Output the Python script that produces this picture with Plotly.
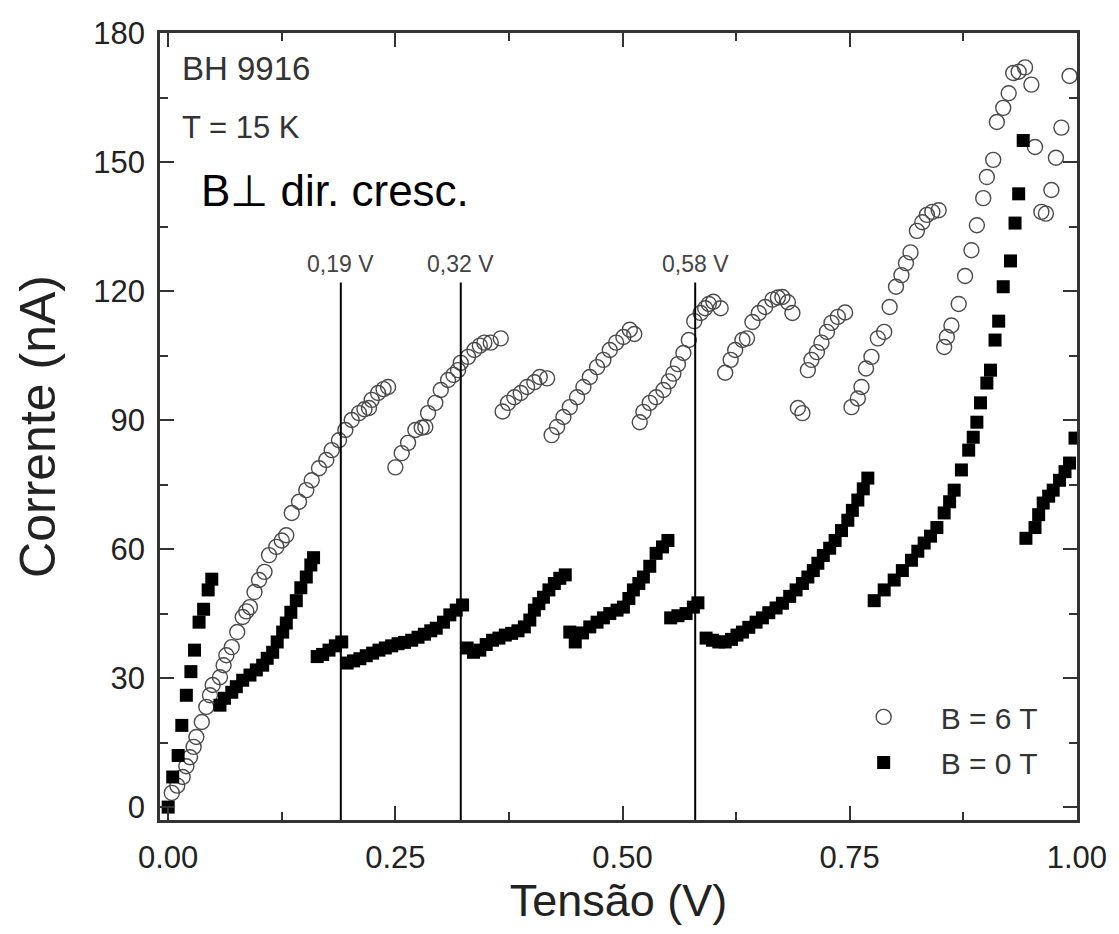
import plotly.graph_objects as go

# ---- B = 0 T (filled squares) ----
v0 = [0.000, 0.005, 0.011, 0.015, 0.020, 0.025, 0.029, 0.034, 0.039, 0.044, 0.048,
      0.057, 0.062, 0.070, 0.075, 0.082, 0.090, 0.097, 0.104, 0.109, 0.115, 0.120, 0.126, 0.130, 0.135, 0.141, 0.146, 0.152, 0.157, 0.160,
      0.164, 0.170, 0.177, 0.184, 0.191,
      0.197, 0.204, 0.211, 0.218, 0.225, 0.232, 0.239, 0.246, 0.253, 0.260, 0.268, 0.275, 0.282, 0.289, 0.295, 0.303, 0.310, 0.317, 0.324,
      0.329, 0.336, 0.343, 0.350, 0.357, 0.364, 0.371, 0.378, 0.385, 0.392, 0.398, 0.403, 0.408, 0.413, 0.419, 0.425, 0.431, 0.437,
      0.442, 0.448, 0.456, 0.464, 0.472, 0.479, 0.486, 0.494, 0.501, 0.507, 0.512, 0.518, 0.523, 0.530, 0.537, 0.544, 0.550,
      0.553, 0.561, 0.570, 0.578, 0.583,
      0.592, 0.599, 0.606, 0.613, 0.620, 0.626, 0.632, 0.639, 0.647, 0.654, 0.661, 0.669, 0.676, 0.684, 0.691, 0.698, 0.704, 0.710, 0.715, 0.721, 0.728, 0.734, 0.741, 0.748, 0.753, 0.759, 0.765, 0.770,
      0.777, 0.788, 0.799, 0.808, 0.818, 0.825, 0.832, 0.839, 0.846, 0.854, 0.860, 0.865, 0.873, 0.881, 0.886, 0.890, 0.894, 0.901, 0.905, 0.910, 0.914, 0.919, 0.927, 0.932, 0.936, 0.941,
      0.944, 0.954, 0.958, 0.963, 0.969, 0.974, 0.981, 0.987, 0.992, 0.998]
i0 = [0, 7, 12, 19, 26, 31.5, 36.5, 43, 46, 50.5, 53,
      23.7, 25.3, 26.7, 28, 29.5, 30.7, 31.9, 33, 34.6, 36, 38.4, 40.7, 42.8, 45.3, 48, 51, 53.5, 56.3, 58,
      35, 35.5, 36.5, 37.5, 38.4,
      33.5, 34, 34.5, 35.2, 35.8, 36.5, 37, 37.5, 38, 38.3, 38.8, 39.5, 40.2, 41, 41.6, 43, 44.7, 45.8, 47,
      37, 36, 36.5, 37.8, 38.8, 39.3, 40, 40.4, 41, 41.9, 43.5, 45.8, 47.3, 48.8, 50.5, 52, 53.2, 54,
      40.7, 38.4, 40.5, 41.9, 43, 44, 45, 45.8, 46.5, 48.5, 50.5, 52, 53.5, 56, 59, 60.5, 62,
      44, 44.5, 45, 46.5, 47.5,
      39.3, 38.8, 38.4, 38.4, 39, 40, 40.7, 41.8, 43, 44, 45.2, 46.3, 47.4, 49, 50.5, 52, 53.5, 55, 56.7, 58.5, 60.2, 62, 64.3, 66.7, 69, 71.4, 74, 76.5,
      48, 50.5, 52.8, 55, 57.4, 59.5, 61.4, 63, 65, 68.4, 71, 73.7, 78.4, 83, 86, 89.5, 94, 98.6, 101.6, 108.6, 113, 121, 127, 135.8, 142.6, 155,
      62.5, 65, 68, 70.7, 72.3, 73.7, 76, 78, 80, 85.8]

# ---- B = 6 T (open circles) ----
v6 = [0.004, 0.010, 0.016, 0.020, 0.024, 0.028, 0.031, 0.037, 0.042, 0.046, 0.049, 0.057, 0.061, 0.064, 0.070, 0.076, 0.082, 0.086, 0.090, 0.095, 0.100, 0.106, 0.111, 0.119, 0.125, 0.130, 0.136, 0.144, 0.152, 0.158, 0.166, 0.174, 0.180, 0.188, 0.195, 0.202, 0.210, 0.216, 0.221, 0.224, 0.231, 0.237, 0.242,
      0.250, 0.257, 0.264, 0.272, 0.279, 0.283, 0.286, 0.294, 0.300, 0.308, 0.314, 0.319, 0.322, 0.330, 0.337, 0.343, 0.348, 0.355, 0.366,
      0.368, 0.374, 0.381, 0.388, 0.395, 0.403, 0.409, 0.417,
      0.422, 0.428, 0.435, 0.442, 0.450, 0.457, 0.464, 0.472, 0.479, 0.486, 0.493, 0.501, 0.508, 0.513,
      0.519, 0.523, 0.530, 0.537, 0.545, 0.551, 0.556, 0.561, 0.567, 0.573, 0.579, 0.586, 0.591, 0.595, 0.600, 0.608,
      0.613, 0.619, 0.624, 0.632, 0.637, 0.643, 0.650, 0.657, 0.665, 0.671, 0.676, 0.682, 0.687,
      0.693, 0.698,
      0.704, 0.708, 0.714, 0.719, 0.725, 0.730, 0.737, 0.745,
      0.752, 0.759, 0.763, 0.768, 0.774, 0.781, 0.788, 0.794, 0.801, 0.807, 0.812, 0.817, 0.824, 0.830, 0.835, 0.841, 0.848,
      0.854, 0.857, 0.862, 0.870, 0.877, 0.884, 0.890, 0.897, 0.901, 0.908, 0.912, 0.919, 0.925, 0.930, 0.936, 0.943, 0.950,
      0.954, 0.961, 0.966, 0.972, 0.977, 0.983, 0.992]
i6 = [3.3, 5, 7, 9.5, 11.6, 14, 16.3, 19.8, 23.3, 26, 28.4, 30.2, 33, 35.3, 37.2, 40.7, 44.2, 45.5, 46.5, 50, 52.8, 54.7, 58.6, 60.5, 62, 63.2, 68.4, 71, 73.7, 76, 78.8, 80.7, 83, 85.3, 87.7, 90, 91.6, 92.5, 92.8, 94.7, 96.3, 97.2, 97.7,
      79, 82.3, 84.7, 87.7, 88.2, 88.4, 91.6, 94, 97, 99.3, 100.5, 101.6, 103.3, 104.7, 106.3, 107.3, 108, 108, 109,
      92, 94, 95.3, 96.3, 97.7, 98.8, 100, 99.7,
      86.5, 88.4, 90.7, 93, 95.3, 97.7, 100, 102.3, 104, 106.3, 108, 109.3, 111, 110,
      89.5, 91.9, 94, 95.3, 97, 99, 100.8, 103, 105.6, 108.6, 113, 114.9, 116, 117, 117.5, 116,
      101, 104, 106.3, 108.6, 109, 112.8, 114.9, 116.3, 118, 118.5, 118.6, 117.4, 114.9,
      92.8, 91.6,
      101.6, 104, 105.8, 108, 110.5, 112.6, 114, 115,
      93, 95, 97.7, 102, 104.7, 109, 110.5, 116.3, 121, 123.7, 126.5, 129, 134, 136, 137.7, 138.4, 138.8,
      107, 109.3, 112, 117, 123.5, 129.5, 135.3, 141.6, 146.5, 150.5, 159.3, 162.6, 166, 170.7, 171, 172, 168,
      153.5, 138.4, 138, 143.5, 151, 158, 170]

vlines = [0.19, 0.322, 0.58]
vline_labels = ["0,19 V", "0,32 V", "0,58 V"]
vline_top = 122

x_ticks = [0.0, 0.25, 0.5, 0.75, 1.0]
y_ticks = [0, 30, 60, 90, 120, 150, 180]
x_range = [-0.009, 1.0002]
y_range = [-3, 180]

FONT = "Liberation Sans, Arial, sans-serif"
AX = "#333333"

fig = go.Figure()
fig.add_trace(go.Scatter(
    x=v6, y=i6, mode="markers", name="B = 6 T", legend="legend",
    marker=dict(symbol="circle-open", size=15, color="#4a4a4a", line=dict(width=1.4, color="#4a4a4a")),
))
fig.add_trace(go.Scatter(
    x=v0, y=i0, mode="markers", name="B = 0 T", legend="legend2",
    marker=dict(symbol="square", size=13, color="black"),
))

for xv, lab in zip(vlines, vline_labels):
    fig.add_shape(type="line", xref="x", yref="y", x0=xv, x1=xv, y0=y_range[0], y1=vline_top,
                  line=dict(color="black", width=2))
    fig.add_annotation(x=xv, y=vline_top, xref="x", yref="y", text=lab, showarrow=False,
                       yanchor="bottom", yshift=3, font=dict(family=FONT, size=23, color="#444444"))

fig.add_annotation(x=0.022, y=0.955, xref="paper", yref="paper", text="BH 9916", showarrow=False,
                   xanchor="left", yanchor="middle", font=dict(family=FONT, size=33, color="#333333"))
fig.add_annotation(x=0.022, y=0.88, xref="paper", yref="paper", text="T = 15 K", showarrow=False,
                   xanchor="left", yanchor="middle", font=dict(family=FONT, size=31, color="#333333"))
fig.add_annotation(x=0.043, y=0.80, xref="paper", yref="paper", text="B\u22a5 dir. cresc.", showarrow=False,
                   xanchor="left", yanchor="middle", font=dict(family=FONT, size=44, color="black"))

axis_common = dict(
    showline=True, linecolor=AX, linewidth=2.5, mirror="allticks",
    ticks="inside", ticklen=14, tickwidth=2, tickcolor=AX,
    showgrid=False, zeroline=False,
    tickfont=dict(family=FONT, size=31, color="#222222"),
)
fig.update_xaxes(range=x_range, tickvals=x_ticks, tickformat=".2f", ticklabelstandoff=8,
                 minor=dict(ticks="inside", ticklen=8, tickwidth=2, tickcolor=AX, dtick=0.125, tick0=0),
                 title=dict(text="Tens\u00e3o (V)", font=dict(family=FONT, size=45, color="#222222"), standoff=0),
                 **axis_common)
fig.update_yaxes(range=y_range, tickvals=y_ticks, ticklabelstandoff=6,
                 minor=dict(ticks="inside", ticklen=8, tickwidth=2, tickcolor=AX, dtick=15, tick0=0),
                 title=dict(text="Corrente (nA)", font=dict(family=FONT, size=50, color="#222222"), standoff=22),
                 **axis_common)

leg_common = dict(xref="paper", yref="paper", xanchor="left", yanchor="middle",
                  bgcolor="rgba(0,0,0,0)", font=dict(family=FONT, size=30, color="#333333"),
                  itemwidth=104)
fig.update_layout(
    width=1119, height=934,
    margin=dict(l=160, r=38, t=33, b=114),
    paper_bgcolor="white", plot_bgcolor="white",
    showlegend=True,
    legend=dict(x=0.727, y=0.131, **leg_common),
    legend2=dict(x=0.727, y=0.073, **leg_common),
)

fig.write_html("out.html")
